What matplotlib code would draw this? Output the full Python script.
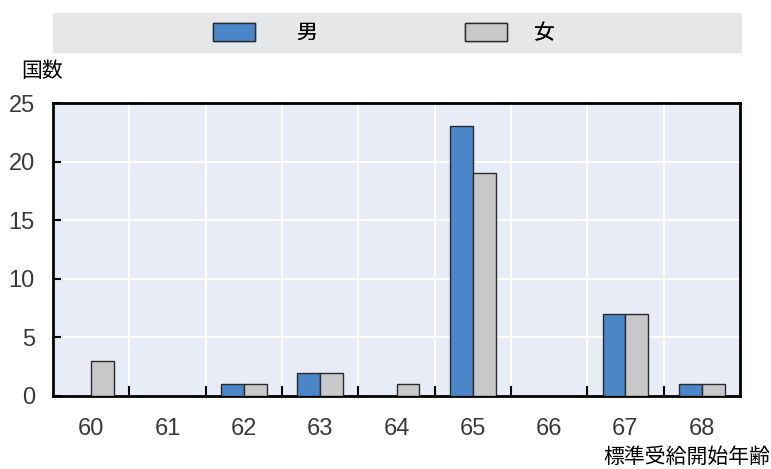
import matplotlib
matplotlib.use("Agg")
import matplotlib.pyplot as plt
from matplotlib import font_manager
from matplotlib.patches import Rectangle, Patch
from matplotlib.font_manager import FontProperties
import numpy as np

# Data: number of countries by normal pension age
ages = ["60", "61", "62", "63", "64", "65", "66", "67", "68"]
men = [0, 0, 1, 2, 0, 23, 0, 7, 1]
women = [3, 0, 1, 2, 1, 19, 0, 7, 1]
y_ticks = [0, 5, 10, 15, 20, 25]
series_labels = ["男", "女"]
y_title = "国数"
x_title = "標準受給開始年齢"

BLUE = "#4a86c8"
GREY = "#c8c8ca"
EDGE = "#2b2b2b"
PLOT_BG = "#e8ecf7"
LEGEND_BG = "#e6e7e9"
TEXT = "#3a3a3a"

installed = {f.name for f in font_manager.fontManager.ttflist}
num_family = "Liberation Sans Narrow" if "Liberation Sans Narrow" in installed else "Liberation Sans"
cjk_family = ["Noto Sans CJK JP", "DejaVu Sans"]

W, H = 771, 469
fig = plt.figure(figsize=(W / 100, H / 100), dpi=100)
ax = fig.add_axes([53 / W, 1 - 396 / H, 687 / W, 293 / H])
ax.set_facecolor(PLOT_BG)

x = np.arange(len(ages))
bw = 0.3
ax.bar(x - bw / 2, men, bw, color=BLUE, edgecolor=EDGE, linewidth=1.0, zorder=3)
ax.bar(x + bw / 2, women, bw, color=GREY, edgecolor=EDGE, linewidth=1.0, zorder=3)

ax.set_xlim(-0.5, len(ages) - 0.5)
ax.set_ylim(0, 25)
ax.set_axisbelow(True)

ax.set_xticks(x)
ax.set_xticklabels(ages, fontfamily=num_family, fontsize=17, color=TEXT)
ax.set_xticks(np.arange(0.5, len(ages) - 1, 1), minor=True)
ax.tick_params(axis="x", which="major", length=0, pad=16)
ax.tick_params(axis="x", which="minor", direction="in", length=7, width=1.5, color="black")

ax.set_yticks(y_ticks)
ax.set_yticklabels([str(v) for v in y_ticks], fontfamily=num_family, fontsize=17, color=TEXT)
ax.tick_params(axis="y", which="major", direction="in", length=6, width=1.5, color="black", pad=13)

ax.grid(True, axis="y", which="major", color="white", linewidth=1.5)
ax.grid(True, axis="x", which="minor", color="white", linewidth=1.5)
ax.grid(False, axis="x", which="major")

for s in ax.spines.values():
    s.set_color("black")
    s.set_linewidth(2)

# Legend band across the top
fig.patches.append(Rectangle((53 / W, 1 - 53 / H), 689 / W, 40 / H,
                             transform=fig.transFigure, facecolor=LEGEND_BG,
                             edgecolor="none", zorder=0))
legend_font = FontProperties(family=cjk_family, size=15)
entries = [
    (Patch(facecolor=BLUE, edgecolor=EDGE, linewidth=1.0), series_labels[0], 213, 1.97),
    (Patch(facecolor=GREY, edgecolor=EDGE, linewidth=1.0), series_labels[1], 465, 1.3),
]
for handle, label, left_px, textpad in entries:
    leg = fig.legend(handles=[handle], labels=[label], loc="center left",
                     bbox_to_anchor=(left_px / W, 1 - 33 / H), frameon=False,
                     handlelength=2.0, handleheight=1.0, handletextpad=textpad,
                     borderpad=0, borderaxespad=0, prop=legend_font)
    fig.add_artist(leg)

fig.text(21 / W, 1 - 60 / H, y_title, ha="left", va="top",
         fontfamily=cjk_family, fontsize=15, color="black")
fig.text(770 / W, 1 - 468 / H, x_title, ha="right", va="bottom",
         fontfamily=cjk_family, fontsize=15, color="black")

fig.savefig("out.png", dpi=100, facecolor="white")
